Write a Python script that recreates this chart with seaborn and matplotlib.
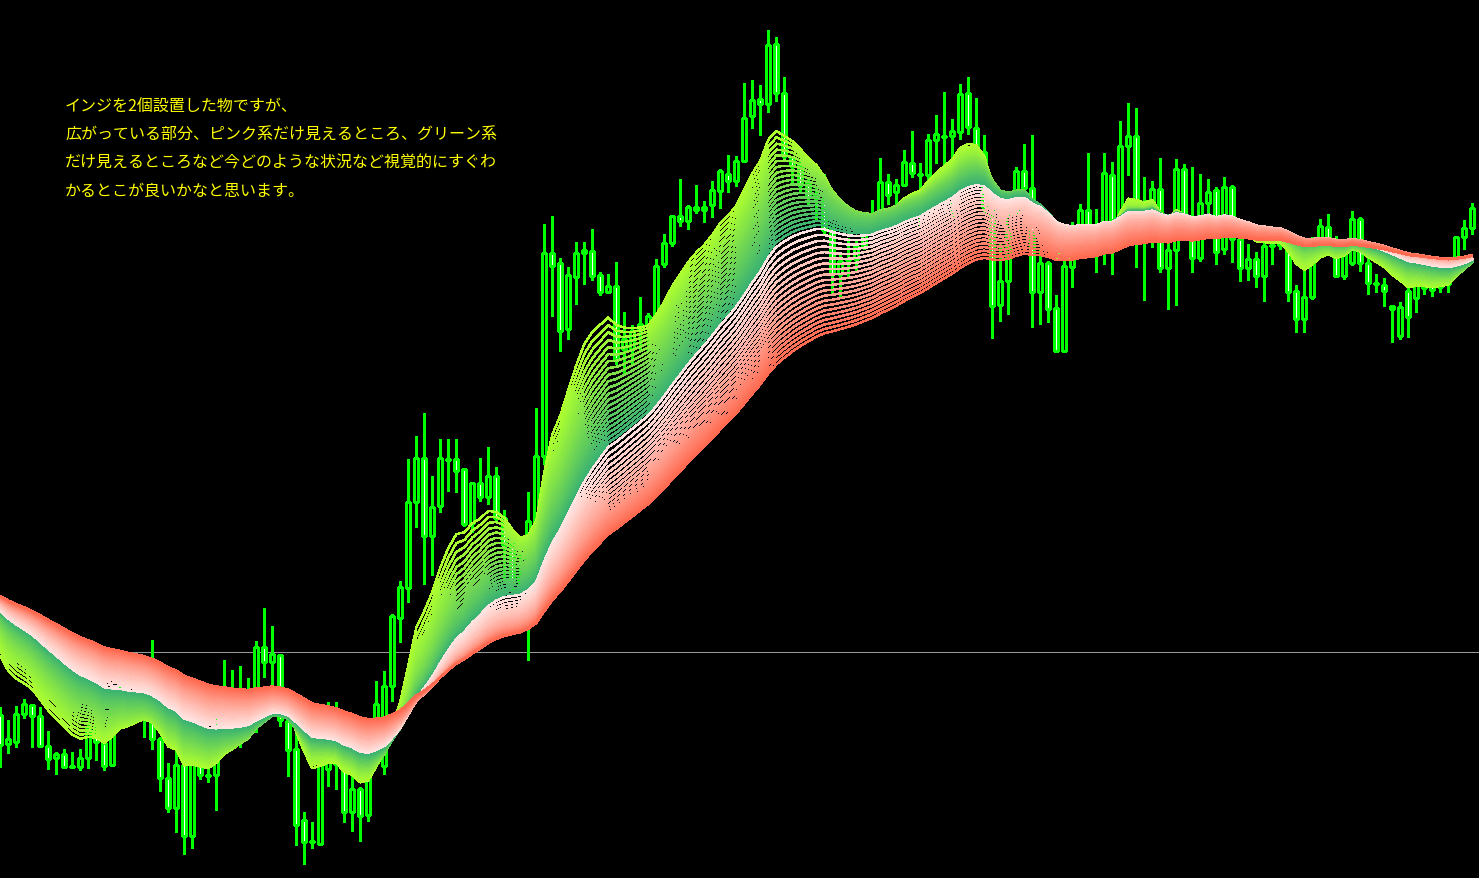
import numpy as np
import pandas as pd
import seaborn as sns
import matplotlib
matplotlib.use('Agg')
from matplotlib import pyplot as plt

# OHLC quotes in points, one entry per bar (oldest first)
bar_open = [284, 255, 257, 285, 294, 283, 253, 241, 245, 233,
            232, 241, 271, 256, 234, 292, 308, 284, 280, 282,
            260, 221, 191, 234, 163, 239, 224, 224, 260, 285,
            272, 285, 288, 352, 337, 344, 278, 250, 179, 158,
            155, 230, 248, 240, 187, 210, 184, 255, 233, 313,
            381, 411, 497, 541, 463, 493, 540, 540, 530, 476,
            516, 502, 523, 481, 455, 417, 426, 427, 543, 746,
            736, 670, 722, 746, 748, 724, 707, 713, 650, 650,
            669, 675, 668, 735, 756, 783, 778, 792, 792, 794,
            808, 825, 818, 838, 883, 900, 895, 955, 906, 842,
            834, 816, 804, 801, 771, 725, 739, 740, 753, 776,
            785, 817, 807, 814, 836, 825, 824, 859, 862, 863,
            867, 906, 871, 847, 792, 694, 718, 787, 828, 811,
            707, 736, 691, 648, 732, 757, 789, 760, 777, 824,
            783, 853, 863, 770, 794, 810, 731, 749, 830, 764,
            741, 796, 809, 750, 812, 760, 731, 740, 723, 754,
            754, 758, 708, 680, 702, 758, 772, 757, 723, 736,
            780, 736, 716, 714, 693, 663, 708, 701, 720, 713,
            712, 715, 742, 762, 771]
bar_high = [292, 279, 293, 300, 295, 292, 268, 247, 250, 247,
            250, 277, 272, 256, 295, 313, 330, 305, 343, 359,
            262, 236, 250, 237, 242, 277, 237, 295, 339, 329,
            333, 321, 358, 391, 373, 345, 282, 265, 187, 177,
            255, 297, 297, 250, 223, 212, 277, 318, 328, 385,
            418, 540, 563, 586, 523, 560, 560, 560, 531, 517,
            541, 552, 532, 489, 457, 447, 507, 591, 775, 783,
            741, 732, 757, 757, 770, 727, 725, 737, 687, 674,
            702, 686, 740, 765, 783, 820, 794, 814, 798, 818,
            830, 844, 843, 916, 919, 914, 969, 962, 922, 843,
            838, 820, 812, 825, 772, 745, 761, 760, 780, 799,
            841, 825, 820, 849, 868, 836, 865, 884, 907, 880,
            915, 922, 901, 864, 795, 757, 790, 832, 855, 864,
            749, 738, 704, 738, 777, 795, 846, 790, 846, 837,
            878, 896, 891, 822, 818, 841, 758, 840, 835, 832,
            825, 820, 812, 822, 814, 770, 755, 747, 758, 760,
            768, 760, 714, 738, 762, 780, 785, 763, 760, 788,
            782, 747, 725, 721, 694, 697, 720, 730, 727, 720,
            720, 725, 763, 779, 796]
bar_low = [232, 246, 252, 281, 252, 253, 230, 225, 231, 231,
           229, 231, 239, 229, 233, 290, 282, 278, 262, 250,
           208, 187, 167, 145, 151, 220, 217, 189, 250, 252,
           252, 267, 267, 322, 315, 273, 223, 154, 135, 151,
           154, 213, 210, 177, 168, 158, 178, 245, 225, 298,
           357, 397, 472, 415, 424, 487, 508, 507, 473, 467,
           498, 495, 478, 417, 410, 405, 339, 422, 535, 683,
           648, 660, 695, 715, 719, 704, 706, 635, 625, 635,
           650, 648, 665, 732, 753, 773, 770, 786, 777, 782,
           791, 807, 813, 837, 871, 864, 887, 898, 838, 817,
           807, 793, 780, 765, 704, 703, 723, 727, 750, 767,
           782, 795, 790, 813, 822, 772, 815, 836, 830, 783,
           860, 865, 840, 785, 661, 678, 685, 784, 805, 672,
           675, 677, 647, 647, 712, 742, 744, 727, 735, 725,
           763, 824, 732, 699, 752, 727, 690, 694, 760, 727,
           738, 780, 735, 745, 737, 718, 719, 712, 698, 735,
           750, 698, 667, 667, 700, 750, 755, 722, 720, 734,
           728, 705, 707, 693, 657, 660, 662, 687, 705, 703,
           707, 707, 725, 750, 765]
bar_close = [254, 260, 285, 295, 283, 253, 240, 245, 232, 232,
             241, 271, 257, 233, 292, 306, 284, 294, 294, 260,
             221, 191, 234, 163, 239, 224, 223, 260, 285, 272,
             288, 295, 352, 337, 345, 279, 249, 174, 157, 157,
             245, 250, 235, 187, 210, 183, 228, 295, 313, 383,
             412, 497, 541, 463, 492, 541, 539, 528, 475, 516,
             502, 523, 481, 454, 418, 423, 478, 543, 746, 733,
             668, 724, 746, 749, 723, 707, 713, 640, 660, 668,
             675, 683, 733, 756, 783, 778, 792, 789, 789, 809,
             828, 818, 838, 881, 899, 895, 954, 906, 843, 833,
             814, 802, 801, 769, 725, 738, 740, 753, 772, 778,
             817, 804, 814, 837, 826, 824, 859, 865, 863, 868,
             905, 872, 848, 792, 693, 718, 787, 828, 811, 707,
             736, 690, 648, 733, 753, 789, 773, 772, 826, 779,
             853, 863, 793, 785, 810, 731, 749, 830, 764, 741,
             796, 807, 747, 812, 760, 731, 740, 723, 753, 753,
             758, 707, 680, 702, 759, 773, 761, 723, 755, 780,
             736, 716, 715, 708, 690, 692, 682, 720, 711, 709,
             716, 722, 762, 771, 791]

# closes of the bars just before the visible window (used to warm up the averages)
lead_in_close = [420, 418, 423, 421, 419, 424, 422, 417, 420, 423,
                 421, 418, 422, 425, 420, 419, 421, 424, 420, 418,
                 400, 370, 340, 310, 285]

# EMA spans of the two ribbons
green_periods = list(range(10, 31))
pink_periods = [31, 32.5, 34, 35.5, 37, 38.5, 40, 41.5, 43, 44.5, 46,
                47.5, 49, 50.5, 52, 53.5, 55, 56.5, 58, 59.5, 61]
level_price = 347

note_lines = ['インジを2個設置した物ですが、',
              '広がっている部分、ピンク系だけ見えるところ、グリーン系',
              'だけ見えるところなど今どのような状況など視覚的にすぐわ',
              'かるとこが良いかなと思います。']

LIME = '#00ff00'


def ema_frame(closes, periods, n_lead):
    frames = []
    for n in periods:
        ema = pd.Series(closes, dtype=float).ewm(span=n, adjust=False).mean().to_numpy()[n_lead:]
        frames.append(pd.DataFrame({'bar': np.arange(len(ema)), 'ema': ema, 'period': n}))
    return pd.concat(frames, ignore_index=True)


all_closes = lead_in_close + bar_close
green_df = ema_frame(all_closes, green_periods, len(lead_in_close))
pink_df = ema_frame(all_closes, pink_periods, len(lead_in_close))

sns.set_theme(style='dark', rc={'axes.facecolor': 'black', 'figure.facecolor': 'black'})
plt.rcParams['font.family'] = ['Noto Sans CJK JP', 'DejaVu Sans']

fig = plt.figure(figsize=(14.79, 8.79), dpi=100)
ax = fig.add_axes([0, 0, 1, 1])
ax.set_facecolor('black')

ax.axhline(level_price, color='#9a9a9a', linewidth=0.7, zorder=1, antialiased=False)

# candles
bars = np.arange(len(bar_close))
o = np.array(bar_open, dtype=float)
c = np.array(bar_close, dtype=float)
ax.vlines(bars, bar_low, bar_high, color=LIME, linewidth=0.75, zorder=2, antialiased=False)
body_bottom = np.minimum(o, c)
body_height = np.maximum(np.abs(c - o), 0.8)
body_fill = np.where(c >= o, 'black', 'white')
ax.bar(bars, body_height, bottom=body_bottom, width=0.5, color=body_fill,
       edgecolor=LIME, linewidth=0.75, zorder=3, antialiased=False)

# two rainbow ribbons of moving averages
sns.lineplot(data=green_df, x='bar', y='ema', hue='period',
             palette=sns.blend_palette(['#adff2f', '#3cb371'], len(green_periods)),
             estimator=None, errorbar=None, legend=False, linewidth=1.0,
             antialiased=False, zorder=4, ax=ax)
sns.lineplot(data=pink_df, x='bar', y='ema', hue='period',
             palette=sns.blend_palette(['#ffe4e1', '#ff6a50'], len(pink_periods)),
             estimator=None, errorbar=None, legend=False, linewidth=1.0,
             antialiased=False, zorder=5, ax=ax)

ax.set_xlim(-0.04, 184.835)
ax.set_ylim(121, 1000)
ax.axis('off')

for k, line in enumerate(note_lines):
    fig.text(65 / 1479, 1 - (107 + 28 * k) / 879, line, color='#ffff00',
             fontsize=11.5, va='center', ha='left')

fig.savefig('out.png', dpi=100, facecolor='black')
